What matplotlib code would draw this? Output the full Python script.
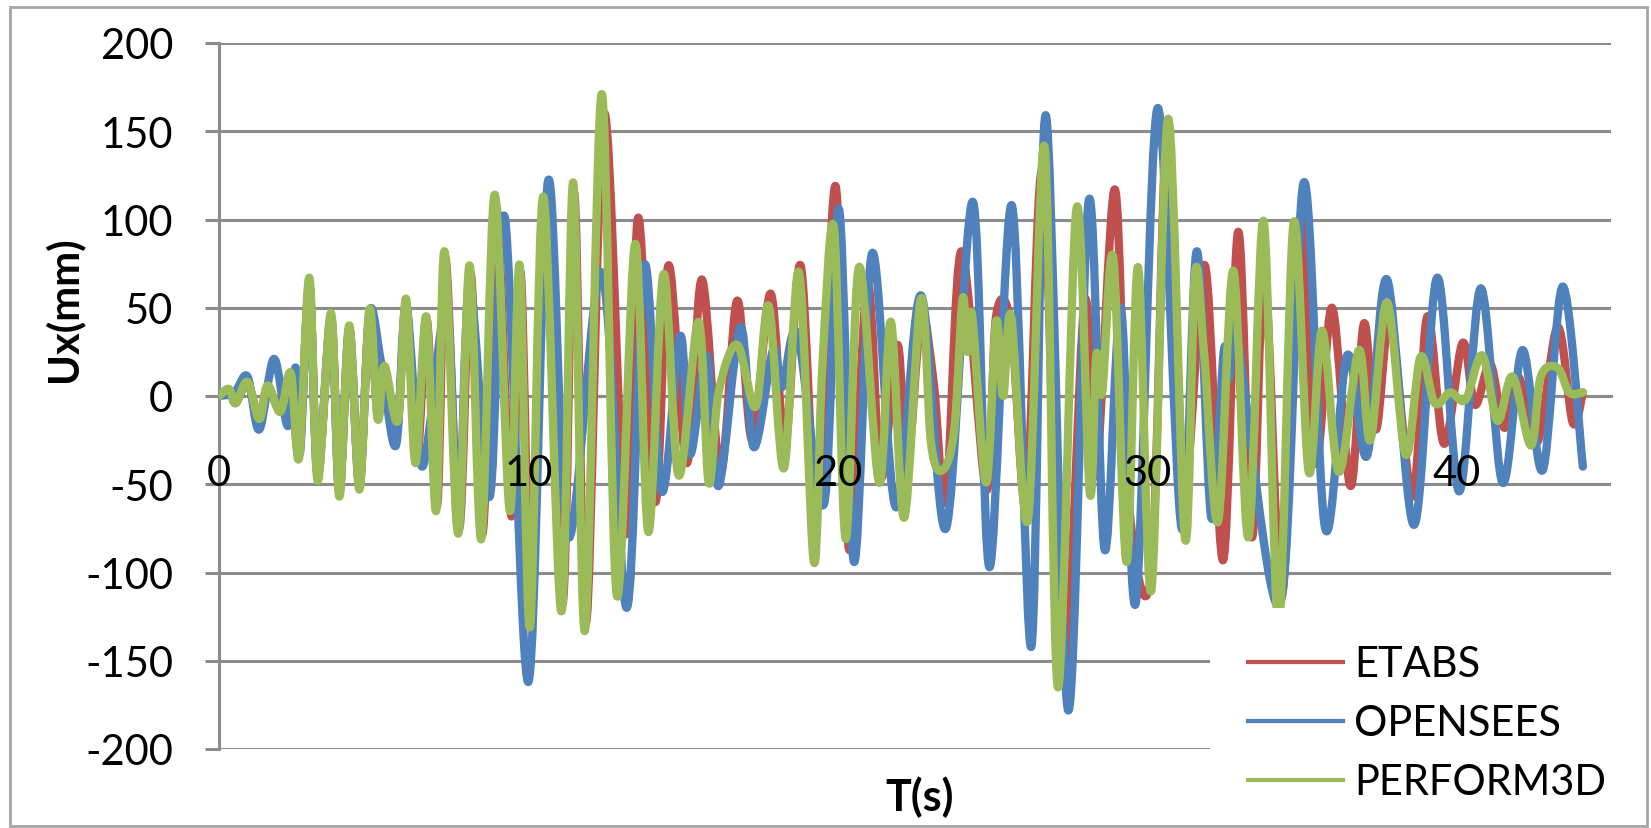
"""
Déplacement Ux(t) – comparaison ETABS / OPENSEES / PERFORM3D
"""

import matplotlib.pyplot as plt
from matplotlib.patches import Rectangle, PathPatch
from matplotlib.path import Path
from matplotlib.lines import Line2D

# ─────────────────────────────────────────────
# Données (pics et creux)
# ─────────────────────────────────────────────

t_etabs = [0, 0.32, 0.54, 0.92, 1.30, 1.57, 1.98, 2.32, 2.59, 2.92, 3.19, 3.62, 3.89, 4.21,
           4.54, 4.86, 5.13, 5.35, 5.75, 6.05, 6.40, 6.72, 7.05, 7.32, 7.76, 8.13, 8.52, 8.95,
           9.45, 9.75, 10.1, 10.52, 11.1, 11.48, 11.87, 12.45, 13.15, 13.55, 14.1, 14.53,
           15.12, 15.61, 16.21, 16.75, 17.24, 17.83, 18.3, 18.80, 19.34, 19.93, 20.37, 20.96,
           21.4, 21.93, 22.25, 22.7, 23.1, 23.50, 24.0, 24.8, 25.12, 25.61, 26.1, 26.63, 27.28,
           27.98, 28.35, 28.96, 29.4, 30.14, 30.65, 31.2, 31.87, 32.46, 32.95, 33.39, 33.8,
           34.36, 34.95, 35.45, 35.98, 36.58, 37.01, 37.4, 37.87, 38.58, 39.06, 39.6, 40.2,
           40.6, 41.1, 41.55, 42.0, 42.62, 43.27, 43.76, 44.09]
u_etabs = [0, 3, -4, 7, -12, 5, -8, 12, -33, 62, -45, 44, -54, 38,
           -50, 46, -12, 15, -20, 52, -35, 43, -62, 78, -75, 70, -78, 108,
           -68, 70, -125, 110, -118, 115, -128, 160, -78, 101, -60, 74,
           -38, 66, -43, 54, -25, 58, -27, 74, -65, 119, -87, 63,
           -46, 29, -40, 45, 8, -59, 82, -53, 45, 40, -60, 127, -160,
           53, -45, 117, -59, -100, 150, -50, 74, -93, 93, -80, 70,
           -113, 100, -38, 50, -51, 41, -19, 42, -57, 45, -27, 30,
           -5, 18, -18, 11, -26, 39, -15, 2]

t_opensees = [0, 0.5, 0.92, 1.30, 1.78, 2.22, 2.48, 2.62, 2.92, 3.19, 3.62, 3.89, 4.21, 4.54,
              4.86, 5.24, 5.72, 6.05, 6.57, 7.35, 7.73, 8.10, 8.75, 9.24, 10.0, 10.64, 11.29,
              12.37, 13.18, 13.75, 14.31, 14.91, 15.23, 15.77, 16.15, 16.85, 17.29, 17.91,
              18.2, 18.7, 19.56, 20.04, 20.53, 21.12, 21.88, 22.69, 23.50, 24.37, 24.91, 25.63,
              26.26, 26.73, 27.45, 28.12, 28.63, 29.15, 29.64, 30.34, 31.12, 31.61, 32.08,
              32.48, 32.66, 32.9, 34.3, 35.07, 35.76, 36.47, 37.11, 37.76, 38.63, 39.38, 40.09,
              40.79, 41.49, 42.14, 42.79, 43.44, 44.09]
u_opensees = [0, 2, 11, -19, 21, -17, 16, -32, 64, -45, 45, -55, 38, -51,
              47, 19, -28, 51, -40, 50, -75, 63, -57, 101, -162, 122, -80,
              70, -120, 74, -54, 34, -33, 23, -51, 39, -29, 26,
              5, 35, -61, 106, -94, 81, -63, 57, -75, 110, -97, 108,
              -142, 159, -178, 111, -87, 50, -117, 163, -75, 82, -69,
              25, 10, 34, -118, 121, -75, 23, -34, 66, -73, 67, -54,
              61, -49, 26, -42, 62, -40]

t_perform = [0, 0.32, 0.54, 0.92, 1.30, 1.57, 1.98, 2.32, 2.59, 2.92, 3.19, 3.62, 3.89, 4.21,
             4.54, 4.86, 5.13, 5.35, 5.78, 6.05, 6.35, 6.70, 7.02, 7.29, 7.73, 8.10, 8.48, 8.91,
             9.40, 9.72, 10.05, 10.48, 11.07, 11.45, 11.83, 12.37, 12.86, 13.45, 13.88, 14.37,
             14.86, 15.50, 15.83, 16.15, 16.75, 17.35, 17.77, 18.26, 18.75, 19.23, 19.50, 19.88,
             20.26, 20.69, 21.34, 21.72, 22.15, 22.69, 23.02, 23.39, 23.77, 24.04, 24.2, 24.35,
             24.80, 25.12, 25.35, 25.61, 26.15, 26.69, 27.12, 27.72, 28.15, 28.36, 28.55, 28.91,
             29.34, 29.71, 30.14, 30.68, 31.23, 31.55, 31.85, 32.30, 32.79, 33.28, 33.77, 34.25,
             34.74, 35.23, 35.66, 36.20, 36.85, 37.22, 37.76, 38.36, 38.84, 39.3, 39.8, 40.3,
             40.84, 41.33, 41.82, 42.41, 42.73, 43.27, 43.65, 44.09]
u_perform = [0, 4, -4, 8, -13, 6, -9, 13, -35, 67, -48, 47, -57, 40,
             -53, 49, -13, 17, -14, 55, -38, 45, -65, 82, -78, 74, -81, 114,
             -65, 74, -131, 113, -122, 121, -133, 171, -113, 86, -77, 69,
             -45, 42, -49, 2, 29, -6, 51, -41, 70, -94, 15, 95,
             -81, 73, -49, 42, -69, 55, -27, -42, -19, 55, 25, 45,
             -49, 42, 0, 45, -70, 141, -165, 106, -55, 23, 2, 78,
             -94, 73, -110, 157, -81, 69, 23, -71, 71, -80, 99, -130,
             98, -43, 37, -43, 26, -25, 53, -33, 22, -4, 2, -2,
             23, -14, 11, -28, 11, 16, 2, 2]

labels = ['ETABS', 'OPENSEES', 'PERFORM3D']
colors = ['#C0504D', '#4F81BD', '#9BBB59']


def smooth_path(t, u):
    """Courbe lissée façon Excel (Bézier passant par chaque point)."""
    pts = list(zip(t, u))
    n = len(pts)
    verts, codes = [pts[0]], [Path.MOVETO]
    for i in range(n - 1):
        p0 = pts[i - 1] if i > 0 else pts[i]
        p1, p2 = pts[i], pts[i + 1]
        p3 = pts[i + 2] if i + 2 < n else pts[i + 1]
        c1 = (p1[0] + (p2[0] - p0[0]) / 6, p1[1] + (p2[1] - p0[1]) / 6)
        c2 = (p2[0] - (p3[0] - p1[0]) / 6, p2[1] - (p3[1] - p1[1]) / 6)
        verts += [c1, c2, p2]
        codes += [Path.CURVE4] * 3
    return Path(verts, codes)


# ─────────────────────────────────────────────
# Figure
# ─────────────────────────────────────────────

plt.rcParams['font.family'] = ['Lato', 'DejaVu Sans']
plt.rcParams['axes.unicode_minus'] = False
W, H = 1651, 829
fig = plt.figure(figsize=(W / 100, H / 100), dpi=100)
ax = fig.add_axes([219 / W, 1 - 750 / H, (1611 - 219) / W, (750 - 44) / H])

grid_col = '#8C8C8C'
series = [(t_etabs, u_etabs), (t_opensees, u_opensees), (t_perform, u_perform)]
handles = []
for (t, u), lab, col in zip(series, labels, colors):
    ax.add_patch(PathPatch(smooth_path(t, u), fill=False, edgecolor=col, linewidth=6,
                           capstyle='round', joinstyle='round', zorder=3))
    handles.append(Line2D([], [], color=col, linewidth=3, label=lab))

ax.set_xlim(0, 45)
ax.set_ylim(-200, 200)
ax.set_xticks([0, 10, 20, 30, 40])
ax.set_yticks(range(-200, 201, 50))
ax.yaxis.grid(True, color=grid_col, linewidth=2.2)
ax.set_axisbelow(True)
ax.xaxis.set_zorder(4)   # étiquettes de l'axe x au-dessus des courbes

for side in ['top', 'right']:
    ax.spines[side].set_visible(False)
ax.spines['bottom'].set_position(('data', 0))
ax.spines['bottom'].set_color(grid_col)
ax.spines['bottom'].set_linewidth(2.2)
ax.spines['bottom'].set_zorder(0.6)
ax.spines['left'].set_color(grid_col)
ax.spines['left'].set_linewidth(2.2)

ax.tick_params(axis='y', direction='out', length=10, width=2.2, color=grid_col,
               pad=23, labelsize=30)
ax.tick_params(axis='x', length=0, pad=42, labelsize=30)

# titres d'axes
fig.text(63 / W, 1 - 309 / H, 'Ux(mm)', rotation=90, fontsize=30, fontweight='bold',
         ha='center', va='center')
fig.text(920 / W, 1 - 797 / H, 'T(s)', fontsize=31, fontweight='bold',
         ha='center', va='center')

ax.legend(handles=handles, loc='upper left', bbox_to_anchor=(1210 / W, 1 - 609 / H),
          bbox_transform=fig.transFigure, fontsize=30, frameon=True,
          facecolor='white', edgecolor='none', framealpha=1, fancybox=False,
          borderpad=0.9, borderaxespad=0, handlelength=2.3, handletextpad=0.25,
          labelspacing=0.5)

# cadre gris autour du graphique
fig.patches.append(Rectangle((10 / W, 2 / H), 1 - 14 / W, 1 - 10 / H, transform=fig.transFigure,
                             fill=False, edgecolor='#A6A6A6', linewidth=2, zorder=0))

fig.savefig('out.png', dpi=100)
